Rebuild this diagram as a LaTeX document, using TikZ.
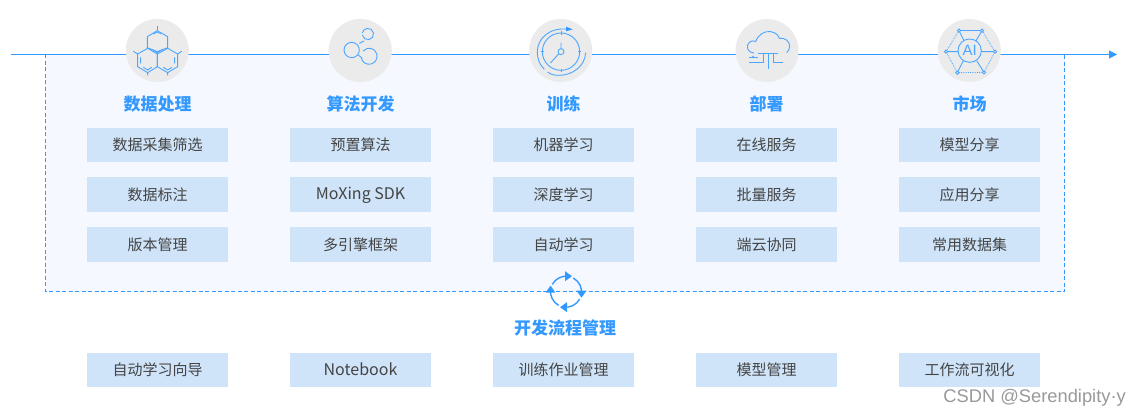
\documentclass[tikz,border=0pt]{standalone}
\usepackage{fontspec}
\setmainfont{Noto Sans CJK SC}
\newfontfamily\wmfont{Liberation Sans}
\usetikzlibrary{arrows.meta}
\definecolor{blu}{HTML}{3399FF}
\definecolor{icn}{HTML}{4DA6FF}
\definecolor{boxc}{HTML}{CFE4F9}
\definecolor{panel}{HTML}{F5F8FF}
\definecolor{disc}{HTML}{EBEBEB}
\definecolor{txt}{HTML}{444444}
\definecolor{wm}{HTML}{999999}
\newcommand{\lat}[1]{{\fontsize{16}{18}\selectfont #1}}
\tikzset{
  itembox/.style={fill=boxc,minimum width=141pt,minimum height=34.5pt,inner sep=0pt,text=txt,font=\fontsize{15}{17}\selectfont},
  head/.style={text=blu,font=\fontsize{17}{19}\selectfont\bfseries,inner sep=0pt},
  discn/.style={circle,fill=disc,minimum size=63pt,inner sep=0pt},
  ic/.style={draw=icn,line width=0.9pt},
  ict/.style={draw=icn,line width=0.8pt},
}
\begin{document}
\begin{tikzpicture}[x=1pt,y=-1pt]
\useasboundingbox (0,0) rectangle (1141,417);
\fill[white] (0,0) rectangle (1141,417);
% panel
\fill[panel] (45,54) rectangle (1064.5,291.5);
\draw[blu,line width=1pt,dash pattern=on 4pt off 2.5pt] (45.5,54.5) -- (45.5,291.5) -- (1064.5,291.5) -- (1064.5,54.5);
% time line
\coordinate (ls) at (11,54.5);
\coordinate (le) at (1117,54.5);
\draw[blu,line width=1pt,-{Triangle[length=8pt,width=8pt]}] (ls) -- (le);
% discs
\node[discn] (d1) at (157.3,50.5) {};
\node[discn] (d2) at (360.3,50.5) {};
\node[discn] (d3) at (560.7,50.5) {};
\node[discn] (d4) at (767,50.5) {};
\node[discn] (d5) at (969.3,50.5) {};
% icon 1
\begin{scope}[shift={(100,10)},xscale=1/3,yscale=1/3]
  \draw[ic] (172,62)--(203,80)--(203,113)--(172,125)--(142,113)--(142,80)--cycle;
  \draw[ic] (172,48)--(172,62);
  \draw[ic] (143,115)--(172,132)--(172,170)--(143,188)--(113,170)--(113,132)--cycle;
  \draw[ic] (203,115)--(233,132)--(233,170)--(203,188)--(172,170)--(172,132)--cycle;
  \draw[ic] (100,124)--(113,132) (245,124)--(233,132) (143,188)--(143,196) (203,188)--(203,196);
  \draw[ic] (122,142)--(122,160) (224,142)--(224,160) (160,72)--(172,66)--(184,72);
  \draw[ic] (130,172)--(143,180)--(155,172) (190,172)--(203,180)--(216,172);
  \draw[ic] (155,118)--(172,128)--(189,118);
\end{scope}
% icon 2
\begin{scope}[shift={(100,10)},xscale=1/3,yscale=1/3]
  \draw[ic] (755,120) circle (23);
  \draw[ic] (787,75) arc (170:-170:17);
  \draw[ic] (784,145) arc (165:-140:24);
  \draw[ic] (778,100)--(792,93) (775,135)--(787,145);
\end{scope}
% icon 3
\begin{scope}[shift={(500,10)},xscale=1/3,yscale=1/3]
  \draw[ic] (183,125) circle (56);
  \draw[ic] (183,125) circle (9);
  \draw[ic] (183,98)--(183,116) (176,132)--(151,159);
  \draw[ic] (183,64)--(183,74) (183,176)--(183,186) (122,125)--(132,125) (234,125)--(244,125);
  \draw[ic] (205,58) .. controls (150,50) and (112,85) .. (112,125) .. controls (112,150) and (120,165) .. (133,178);
  \draw[ic] (257,128) .. controls (255,170) and (215,197) .. (175,196) .. controls (160,196) and (150,192) .. (143,186);
  \fill[blu] (198,50)--(218,58)--(198,64)--cycle;
\end{scope}
% icon 4
\begin{scope}[shift={(500,10)},xscale=1/3,yscale=1/3]
  \draw[ic] (762,129) .. controls (745,128) and (740,115) .. (743,105) .. controls (747,93) and (760,90) .. (767,95)
     .. controls (775,72) and (795,62) .. (812,65) .. controls (828,67) and (836,78) .. (838,85)
     .. controls (855,82) and (870,95) .. (869,110) .. controls (868,118) and (865,124) .. (860,128);
  \draw[ic] (775,129)--(790,129) (748,141)--(775,141) (748,158)--(790,158)--(790,129)--(834,129);
  \draw[ic] (805,129)--(805,177) (819,129)--(819,158)--(848,158);
  \draw[ic] (757,141)--(761,138) (757,141)--(761,144);
\end{scope}
% icon 5
\begin{scope}[shift={(900,10)},xscale=1/3,yscale=1/3]
  \draw[ict,densely dotted] (177,62)--(138,125)--(172,188)--(252,187)--(285,125)--(246,62);
  \draw[ict] (177,62)--(246,62);
  \draw[ic] (209,122) circle (35);
  \draw[ic] (138,125)--(174,125) (244,125)--(285,125) (177,62)--(192,92) (246,62)--(228,92) (172,188)--(190,152) (252,187)--(230,152);
  \foreach \p in {(177,62),(246,62),(285,125),(252,187),(172,188),(138,125)}
    \draw[ic,fill=disc] \p circle (5);
\end{scope}
\node[text=icn,inner sep=0pt,font=\wmfont\fontsize{15}{17}\selectfont] (ailab) at (969.6,50) {AI};
% headings
\node[head] (h1) at (157.5,104) {数据处理};
\node[head] (h2) at (360.5,104) {算法开发};
\node[head] (h3) at (563.5,104) {训练};
\node[head] (h4) at (766.5,104) {部署};
\node[head] (h5) at (969.5,104) {市场};
% boxes
\node[itembox] (a1) at (157.5,145) {数据采集筛选};
\node[itembox] (a2) at (157.5,194.5) {数据标注};
\node[itembox] (a3) at (157.5,244.5) {版本管理};
\node[itembox] (b1) at (360.5,145) {预置算法};
\node[itembox,text height=12pt,text depth=1pt] (b2) at (360.5,194.5) {\lat{MoXing SDK}};
\node[itembox] (b3) at (360.5,244.5) {多引擎框架};
\node[itembox] (c1) at (563.5,145) {机器学习};
\node[itembox] (c2) at (563.5,194.5) {深度学习};
\node[itembox] (c3) at (563.5,244.5) {自动学习};
\node[itembox] (e1) at (766.5,145) {在线服务};
\node[itembox] (e2) at (766.5,194.5) {批量服务};
\node[itembox] (e3) at (766.5,244.5) {端云协同};
\node[itembox] (f1) at (969.5,145) {模型分享};
\node[itembox] (f2) at (969.5,194.5) {应用分享};
\node[itembox] (f3) at (969.5,244.5) {常用数据集};
\node[itembox] (g1) at (157.5,370) {自动学习向导};
\node[itembox,text height=11pt,text depth=1pt] (g2) at (360.5,370) {\lat{Notebook}};
\node[itembox] (g3) at (563.5,370) {训练作业管理};
\node[itembox] (g4) at (766.5,370) {模型管理};
\node[itembox] (g5) at (969.5,370) {工作流可视化};
% cycle icon
\begin{scope}[shift={(566,291.7)}]
  \foreach \a in {0,90,180,270}{
    \draw[blu,line width=1.4pt,rotate=\a] (10:15.5) arc (10:-62:15.5) ;
  }
  \foreach \a in {0,90,180,270}{
    \fill[blu,rotate=\a] (15.5,6)--(10.5,-1)--(20.5,-1)--cycle;
  }
\end{scope}
\node[head] (cyc) at (565,328) {开发流程管理};
\node[text=wm,inner sep=0pt,anchor=east,font=\wmfont\fontsize{18.3}{20}\selectfont] (wmk) at (1126,398) {CSDN @Serendipity·y};
\end{tikzpicture}
\end{document}
